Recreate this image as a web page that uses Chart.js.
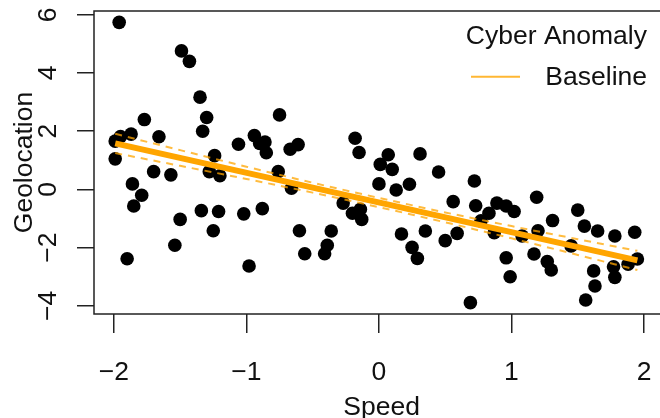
<!DOCTYPE html>
<html>
<head>
<meta charset="utf-8">
<script src="https://cdn.jsdelivr.net/npm/chart.js@4.4.1/dist/chart.umd.min.js"></script>
<style>
html,body{margin:0;padding:0;background:#fff;overflow:hidden;}
#wrap{position:relative;width:676px;height:418px;}
</style>
</head>
<body>
<div id="wrap"><canvas id="c"></canvas></div>
<script>
// ---- data ----
const speed = [-1.96,-1.49,-1.43,-1.35,-1.30,-1.77,-0.75,-1.33,-1.87,-1.66,-1.99,-1.95,-1.99,-1.24,-1.06,-0.94,-0.90,-0.86,-0.85,-0.67,-0.61,-0.18,-0.15,0.07,0.31,0.01,-1.70,-1.57,-1.86,-1.79,-1.85,-1.50,-1.54,-1.90,-1.28,-1.20,-1.34,-1.21,-1.25,-1.02,-0.88,-0.98,-0.76,-0.66,-0.60,-0.56,-0.36,-0.39,-0.41,-0.27,-0.20,-0.14,-0.13,0.00,0.10,0.13,0.23,0.45,0.17,0.25,0.29,0.35,0.50,0.59,0.56,0.72,0.73,0.77,0.83,0.87,0.89,0.96,1.02,0.69,0.96,0.99,1.08,1.19,1.20,1.17,1.27,1.30,1.31,1.45,1.50,1.55,1.65,1.62,1.63,1.56,1.78,1.77,1.78,1.88,1.93,1.95];
const geolocation = [5.74,4.76,4.40,3.17,2.47,2.40,2.56,2.00,1.90,1.81,1.66,1.82,1.05,1.16,1.55,1.85,1.58,1.63,1.26,1.38,1.54,1.76,1.27,1.19,1.22,0.86,0.61,0.50,0.19,-0.20,-0.57,-1.03,-1.92,-2.38,0.61,0.47,-0.73,-0.76,-1.42,-0.84,-0.66,-2.63,0.61,0.04,-1.42,-2.21,-1.43,-1.92,-2.21,-0.47,-0.82,-0.68,-1.03,0.19,0.69,-0.02,0.18,0.60,-1.53,-1.99,-2.37,-1.43,-1.76,-1.51,-0.42,0.29,-0.56,-1.08,-0.82,-1.49,-0.47,-0.57,-0.76,-3.89,-2.35,-3.00,-1.60,-0.27,-1.42,-2.22,-2.48,-2.77,-1.07,-1.94,-0.71,-1.26,-1.43,-2.80,-3.32,-3.80,-1.60,-2.66,-3.02,-2.57,-1.47,-2.39];

const baselineX = [-1.99, 1.95];
const baselineY = [1.58, -2.44];

const bandX     = [-1.99, -1.5, -1.0, -0.5, 0.0, 0.5, 1.0, 1.5, 1.95];
const bandUpper = [1.91, 1.35, 0.78, 0.23, -0.29, -0.79, -1.26, -1.71, -2.11];
const bandLower = [1.25, 0.81, 0.36, -0.11, -0.61, -1.13, -1.68, -2.25, -2.77];

const xTicks = [-2, -1, 0, 1, 2];
const yTicks = [-4, -2, 0, 2, 4, 6];
const xTickLabels = ['\u22122', '\u22121', '0', '1', '2'];
const yTickLabels = ['\u22124', '\u22122', '0', '2', '4', '6'];

const xTitle = 'Speed';
const yTitle = 'Geolocation';
const legendTitle = 'Cyber Anomaly';
const legendLabel = 'Baseline';

// ---- build ----
const FONT = '26.5px "Liberation Sans", Arial, sans-serif';
const ORANGE = '#FFA500';

const pts = speed.map((x, i) => ({x: x, y: geolocation[i]}));
const line = baselineX.map((x, i) => ({x: x, y: baselineY[i]}));
const up = bandX.map((x, i) => ({x: x, y: bandUpper[i]}));
const lo = bandX.map((x, i) => ({x: x, y: bandLower[i]}));

const decor = {
  id: 'decor',
  afterDraw(chart) {
    const ctx = chart.ctx;
    const a = chart.chartArea;
    const xs = chart.scales.x, ys = chart.scales.y;
    ctx.save();
    // box
    ctx.strokeStyle = '#222';
    ctx.lineWidth = 1.5;
    ctx.strokeRect(a.left, a.top, a.right - a.left, a.bottom - a.top);
    ctx.fillStyle = '#111';
    ctx.font = FONT;
    // x tick labels
    ctx.textAlign = 'center';
    ctx.textBaseline = 'alphabetic';
    xTicks.forEach((v, i) => {
      ctx.fillText(xTickLabels[i], xs.getPixelForValue(v), 380);
    });
    // y tick labels (rotated)
    yTicks.forEach((v, i) => {
      ctx.save();
      ctx.translate(56, ys.getPixelForValue(v));
      ctx.rotate(-Math.PI / 2);
      ctx.fillText(yTickLabels[i], 0, 0);
      ctx.restore();
    });
    // axis titles
    ctx.fillText(xTitle, (a.left + a.right) / 2, 415);
    ctx.save();
    ctx.translate(32, (a.top + a.bottom) / 2);
    ctx.rotate(-Math.PI / 2);
    ctx.fillText(yTitle, 0, 0);
    ctx.restore();
    // legend
    ctx.textAlign = 'right';
    ctx.fillText(legendTitle, 647, 43.5);
    ctx.fillText(legendLabel, 647, 85);
    ctx.strokeStyle = 'rgba(255,165,0,0.8)';
    ctx.lineWidth = 2;
    ctx.beginPath();
    ctx.moveTo(471, 76.7);
    ctx.lineTo(520, 76.7);
    ctx.stroke();
    ctx.restore();
  }
};

new Chart(document.getElementById('c'), {
  type: 'scatter',
  data: {
    datasets: [
      {label: legendLabel, data: line, showLine: true, borderColor: ORANGE, borderWidth: 6,
       pointRadius: 0, order: 0},
      {label: 'upper', data: up, showLine: true, borderColor: 'rgba(255,165,0,0.75)', borderWidth: 2,
       borderDash: [7, 6], pointRadius: 0, cubicInterpolationMode: 'monotone', order: 1},
      {label: 'lower', data: lo, showLine: true, borderColor: 'rgba(255,165,0,0.75)', borderWidth: 2,
       borderDash: [7, 6], pointRadius: 0, cubicInterpolationMode: 'monotone', order: 2},
      {label: legendTitle, data: pts, backgroundColor: '#000', borderWidth: 0,
       pointRadius: 6.8, pointHoverRadius: 6.8, order: 3}
    ]
  },
  options: {
    responsive: true,
    maintainAspectRatio: false,
    devicePixelRatio: 1,
    animation: false,
    events: [],
    layout: {padding: {left: 0, top: 11, right: 1, bottom: 0}},
    plugins: {legend: {display: false}, tooltip: {enabled: false}},
    scales: {
      x: {
        type: 'linear', position: 'bottom', min: -2.15, max: 2.19,
        afterBuildTicks: s => { s.ticks = xTicks.map(v => ({value: v})); },
        afterFit: s => { s.height = 104; },
        ticks: {display: false},
        grid: {drawOnChartArea: false, drawTicks: true, tickLength: 19, color: '#222', lineWidth: 1.5},
        border: {display: false}
      },
      y: {
        type: 'linear', position: 'left', min: -4.28, max: 6.13,
        afterBuildTicks: s => { s.ticks = yTicks.map(v => ({value: v})); },
        afterFit: s => { s.width = 94; },
        ticks: {display: false},
        grid: {drawOnChartArea: false, drawTicks: true, tickLength: 17, color: '#222', lineWidth: 1.5},
        border: {display: false}
      }
    }
  },
  plugins: [decor]
});
</script>
</body>
</html>
